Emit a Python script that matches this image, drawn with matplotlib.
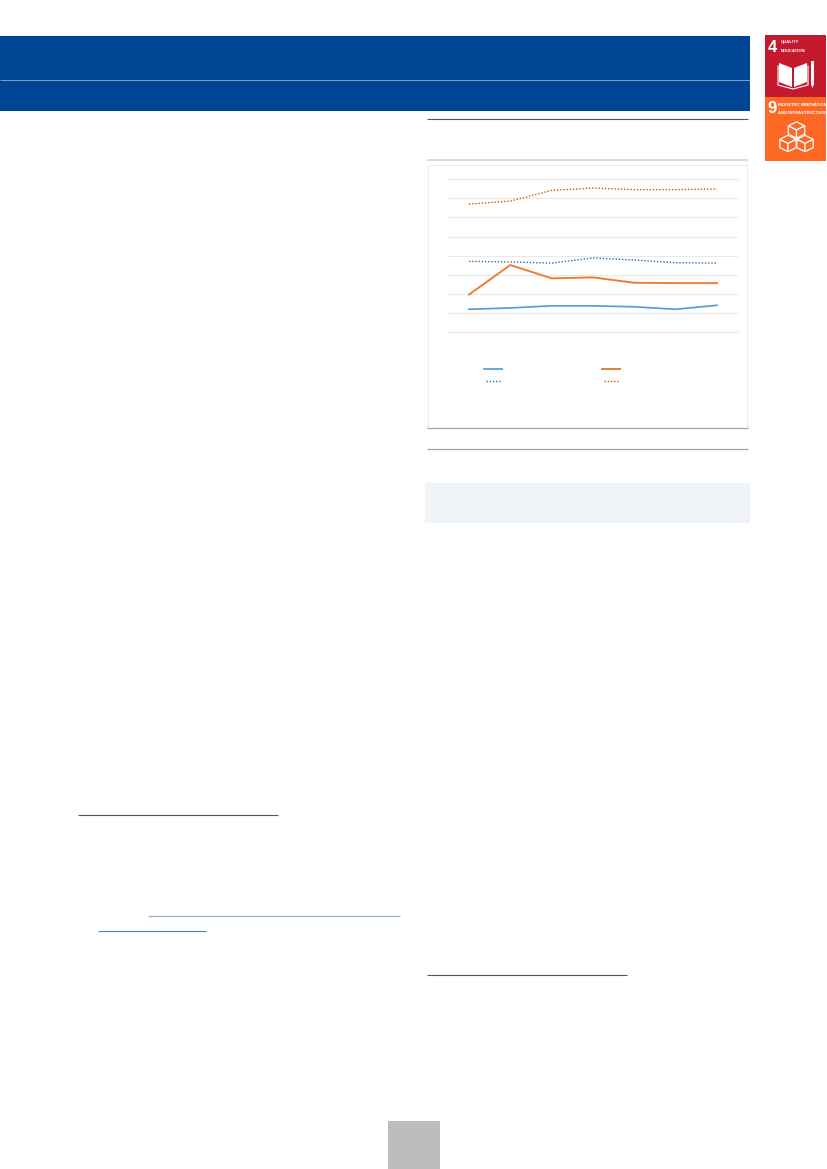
import matplotlib
matplotlib.use("Agg")
import matplotlib.pyplot as plt
from matplotlib.patches import Rectangle, Polygon

W, H = 827, 1169

# Chart data
periods = [0, 1, 2, 3, 4, 5, 6]
solid_blue = [1.19, 1.26, 1.37, 1.37, 1.32, 1.19, 1.40]
solid_orange = [1.96, 3.51, 2.81, 2.86, 2.58, 2.56, 2.56]
dotted_blue = [3.70, 3.67, 3.61, 3.88, 3.77, 3.63, 3.61]
dotted_orange = [6.70, 6.86, 7.42, 7.54, 7.46, 7.46, 7.49]
grid_levels = [0, 1, 2, 3, 4, 5, 6, 7, 8]

BLUE = "#5B9BD5"
ORANGE = "#ED7D31"
DK_BLUE = "#2E6DA8"
DK_ORANGE = "#C55A11"
HEADER = "#004494"
DOTS = (0, (1, 1.3))

fig = plt.figure(figsize=(W / 100, H / 100), dpi=100, facecolor="white")

# page layer in pixel coordinates
pg = fig.add_axes([0, 0, 1, 1])
pg.set_xlim(0, W)
pg.set_ylim(H, 0)
pg.axis("off")


def rect(x0, y0, x1, y1, color, z=1):
    pg.add_patch(Rectangle((x0, y0), x1 - x0, y1 - y0, fc=color, ec="none", zorder=z))


def hline(x0, x1, y, color, lw):
    pg.plot([x0, x1], [y, y], color=color, lw=lw, solid_capstyle="butt", zorder=3)


# header band
rect(0, 36, 750, 110.5, HEADER)
hline(0, 750, 79.5, "#7F9FCB", 0.7)

# right column rules and chart frame
hline(427, 748, 119.3, "#555555", 0.8)
hline(427, 748, 160, "#DADADA", 1.4)
pg.add_patch(Rectangle((428, 164.5), 319, 263, fc="white", ec="#EDEDED", lw=0.9, zorder=1))
hline(427, 748, 427.5, "#A6A6A6", 0.9)
hline(427, 748, 448.5, "#A6A6A6", 0.9)
rect(425, 483, 750, 523, "#F0F4F9")

# footnote rules and links
hline(78, 278, 815, "#555555", 0.8)
hline(148, 400, 916, "#8FB0DA", 0.9)
hline(98, 206, 930.5, "#4F7FC0", 0.8)
hline(427, 627, 975, "#555555", 0.8)

# page number box
rect(388, 1121, 440, 1169, "#BDBDBD")

# SDG icons
rect(764.5, 35, 826, 97, "#C5192D")
rect(764.5, 97, 826, 161, "#FD6925")
cond = ["Liberation Sans Narrow", "Liberation Sans", "DejaVu Sans"]
pg.text(772.5, 47.5, "4", color="white", fontsize=12, fontweight="bold", va="center", ha="center", family=cond, zorder=4)
pg.text(781, 42.5, "QUALITY", color="white", fontsize=3.1, fontweight="bold", va="center", ha="left", family=cond, zorder=4)
pg.text(781, 51, "EDUCATION", color="white", fontsize=3.1, fontweight="bold", va="center", ha="left", family=cond, zorder=4)
pg.text(771.5, 108.5, "9", color="white", fontsize=12, fontweight="bold", va="center", ha="center", family=cond, zorder=4)
pg.text(778.5, 104.5, "INDUSTRY, INNOVATION", color="white", fontsize=3.1, fontweight="bold", va="center", ha="left", family=cond, zorder=4)
pg.text(778.5, 112.5, "AND INFRASTRUCTURE", color="white", fontsize=3.1, fontweight="bold", va="center", ha="left", family=cond, zorder=4)

# book pictogram
for pts in ([(779, 63), (792, 68), (792, 87), (779, 82)],
            [(807, 63), (794, 68), (794, 87), (807, 82)]):
    pg.add_patch(Polygon(pts, closed=True, fc="white", ec="none", zorder=4))
pg.plot([778, 778, 793, 808, 808], [66, 85, 89, 85, 66], color="white", lw=0.8, zorder=4)
# pencil pictogram
rect(811.2, 61, 813.6, 85, "white", 4)
pg.add_patch(Polygon([(811.2, 85), (813.6, 85), (812.4, 88)], closed=True, fc="white", ec="none", zorder=4))


def cube(cx, cy, r):
    top = [(cx, cy - r), (cx + r, cy - r / 2), (cx, cy), (cx - r, cy - r / 2)]
    left = [(cx - r, cy - r / 2), (cx, cy), (cx, cy + r), (cx - r, cy + r / 2)]
    right = [(cx + r, cy - r / 2), (cx, cy), (cx, cy + r), (cx + r, cy + r / 2)]
    for pts in (top, left, right):
        pg.add_patch(Polygon(pts, closed=True, fc="#FD6925", ec="white", lw=0.9, zorder=4))


cube(796.5, 130, 8.2)
cube(788, 143.5, 8.2)
cube(805, 143.5, 8.2)

# chart
left, right, top, bottom = 448.3, 737.7, 179.3, 332.0
ax = fig.add_axes([left / W, 1 - bottom / H, (right - left) / W, (bottom - top) / H])
ax.set_xlim(-0.5, 6.5)
ax.set_ylim(0, 8)
ax.patch.set_alpha(0)
for s in ax.spines.values():
    s.set_visible(False)
ax.set_xticks([])
ax.set_yticks(grid_levels)
ax.tick_params(left=False, labelleft=False)
ax.grid(axis="y", color="#E8E8E8", lw=0.8)
ax.set_axisbelow(True)
for edge_line in [ax.yaxis.get_gridlines()[0], ax.yaxis.get_gridlines()[-1]]:
    edge_line.set_clip_on(False)

ax.plot(periods, solid_blue, color=BLUE, lw=1.25, label=" ")
ax.plot(periods, solid_orange, color=ORANGE, lw=1.4, label=" ")
ax.plot(periods, dotted_blue, color=DK_BLUE, lw=1.0, ls=DOTS, label=" ")
ax.plot(periods, dotted_orange, color=DK_ORANGE, lw=1.0, ls=DOTS, label=" ")

# legend keys, placed in page pixels
handles = ax.get_lines()
for x0, x1, line in ((483, 503, handles[0]), (601, 621, handles[1])):
    pg.plot([x0, x1], [368.8, 368.8], color=line.get_color(), lw=line.get_linewidth(),
            solid_capstyle="butt", zorder=3)
for x0, x1, line in ((486, 501, handles[2]), (604, 619, handles[3])):
    pg.plot([x0, x1], [381.3, 381.3], color=line.get_color(), lw=line.get_linewidth(),
            ls=DOTS, zorder=3)

fig.savefig("out.png", dpi=100, facecolor="white")
